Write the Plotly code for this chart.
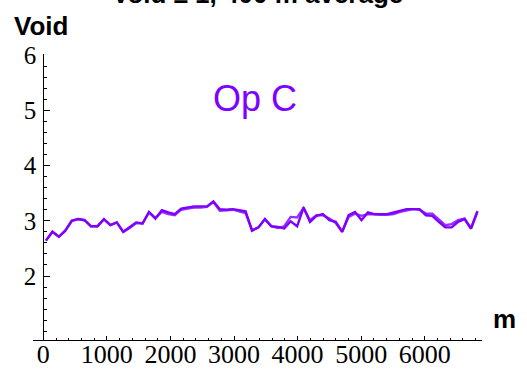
import plotly.graph_objects as go

# Sample positions along the track (m) and the two averaged void curves
step_m = 101.3
n_pts = 68
distance_m = [42 + step_m * i for i in range(n_pts)]

void_a = [2.64, 2.80, 2.71, 2.82, 3.00, 3.03, 3.01, 2.90, 2.90, 3.03,
          2.92, 2.97, 2.80, 2.88, 2.97, 2.95, 3.16, 3.04, 3.19, 3.15,
          3.12, 3.22, 3.24, 3.26, 3.26, 3.26, 3.35, 3.21, 3.20, 3.21,
          3.19, 3.17, 2.82, 2.88, 3.03, 2.90, 2.89, 2.86, 2.99, 2.90,
          3.24, 2.98, 3.09, 3.12, 3.01, 2.98, 2.80, 3.10, 3.16, 3.01,
          3.15, 3.12, 3.12, 3.12, 3.15, 3.18, 3.21, 3.21, 3.21, 3.10,
          3.09, 2.98, 2.88, 2.88, 2.98, 3.03, 2.86, 3.16]

void_b = [2.64, 2.80, 2.71, 2.82, 3.00, 3.03, 3.01, 2.90, 2.90, 3.03,
          2.92, 2.97, 2.80, 2.87, 2.96, 2.95, 3.15, 3.05, 3.16, 3.12,
          3.10, 3.20, 3.22, 3.24, 3.24, 3.25, 3.34, 3.18, 3.19, 3.20,
          3.17, 3.14, 2.83, 2.88, 3.03, 2.90, 2.87, 2.90, 3.07, 3.06,
          3.23, 3.01, 3.10, 3.10, 3.04, 2.96, 2.80, 3.07, 3.13, 3.09,
          3.12, 3.11, 3.11, 3.11, 3.12, 3.16, 3.18, 3.21, 3.20, 3.13,
          3.13, 3.03, 2.92, 2.94, 3.01, 3.04, 2.86, 3.18]

x_ticks = [0, 1000, 2000, 3000, 4000, 5000, 6000]
y_ticks = [2, 3, 4, 5, 6]

W, H = 527, 371
L, R, T, B = 33, 45, 54, 31
x_range = [-162, 6901]
y_range = [0.842, 6.018]

plot_w = W - L - R
plot_h = H - T - B


def paper_x(px):
    return (px - L) / plot_w


def paper_y(py):
    return (H - B - py) / plot_h


purple = "#8000FF"

fig = go.Figure()
fig.add_trace(go.Scatter(x=distance_m, y=void_b, mode="lines",
                         line=dict(color="#9430FF", width=2.4),
                         showlegend=False, hoverinfo="skip"))
fig.add_trace(go.Scatter(x=distance_m, y=void_a, mode="lines",
                         line=dict(color=purple, width=2.4),
                         showlegend=False, hoverinfo="skip"))

tick_font = dict(family="Liberation Serif, Times New Roman, serif", size=26, color="black")

fig.update_xaxes(
    range=x_range, showgrid=False, zeroline=False, automargin=False,
    showline=True, linecolor="black", linewidth=1,
    tickvals=x_ticks, ticktext=[str(v) for v in x_ticks],
    ticks="inside", ticklen=4, tickcolor="black", tickwidth=1,
    tickfont=tick_font, ticklabelstandoff=-9,
    minor=dict(dtick=200, tick0=0, ticks="inside", ticklen=2.5,
               tickcolor="black", showgrid=False),
)

y_axis_pos = (0 - x_range[0]) / (x_range[1] - x_range[0])
fig.update_yaxes(
    range=y_range, showgrid=False, zeroline=False, automargin=False,
    anchor="free", position=y_axis_pos,
    showline=True, linecolor="black", linewidth=1,
    tickvals=y_ticks, ticktext=[str(v) for v in y_ticks],
    ticks="inside", ticklen=6, tickcolor="black", tickwidth=1,
    tickfont=dict(family="Liberation Serif, Times New Roman, serif", size=25, color="black"),
    ticklabelstandoff=2,
    minor=dict(dtick=0.2, tick0=0, ticks="inside", ticklen=3,
               tickcolor="black", showgrid=False),
)

label_font = dict(family="Liberation Sans, Arial, sans-serif", size=26, color="black")

fig.update_layout(
    width=W, height=H,
    margin=dict(l=L, r=R, t=T, b=B, pad=0, autoexpand=False),
    paper_bgcolor="white", plot_bgcolor="white",
    showlegend=False,
    annotations=[
        dict(text="<b>Void ≥ 1, 400 m average</b>", xref="paper", yref="paper",
             x=paper_x(257), y=paper_y(-6), xanchor="center", yanchor="middle",
             showarrow=False, font=label_font),
        dict(text="<b>Void</b>", xref="paper", yref="paper",
             x=paper_x(12), y=paper_y(26), xanchor="left", yanchor="middle",
             showarrow=False, font=label_font),
        dict(text="<b>m</b>", xref="paper", yref="paper",
             x=paper_x(491), y=paper_y(319), xanchor="left", yanchor="middle",
             showarrow=False, font=label_font),
        dict(text="Op C", xref="paper", yref="paper",
             x=paper_x(255), y=paper_y(98), xanchor="center", yanchor="middle",
             showarrow=False,
             font=dict(family="Liberation Sans, Arial, sans-serif", size=36, color=purple)),
    ],
)

fig.write_html("out.html")
